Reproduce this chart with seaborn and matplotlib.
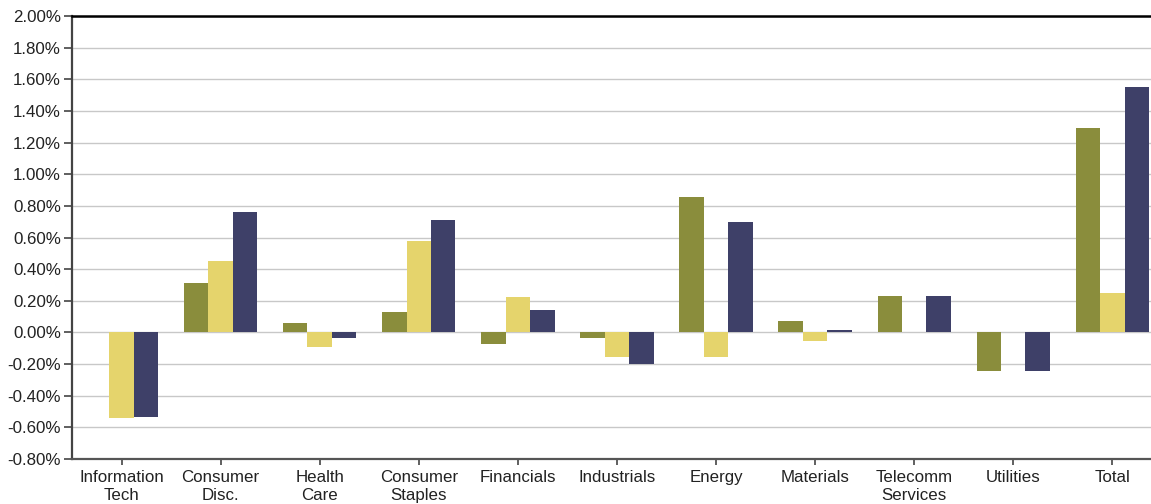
import matplotlib
matplotlib.use("Agg")
import matplotlib.pyplot as plt
import seaborn as sns
import pandas as pd
from matplotlib.ticker import FuncFormatter, MultipleLocator

categories = ["Information\nTech", "Consumer\nDisc.", "Health\nCare", "Consumer\nStaples",
              "Financials", "Industrials", "Energy", "Materials", "Telecomm\nServices",
              "Utilities", "Total"]
allocation = [0.00, 0.31, 0.061, 0.13, -0.075, -0.037, 0.854, 0.070, 0.23, -0.245, 1.292]
selection = [-0.543, 0.45, -0.095, 0.58, 0.222, -0.158, -0.158, -0.056, 0.00, 0.00, 0.249]
total = [-0.533, 0.76, -0.036, 0.71, 0.144, -0.198, 0.696, 0.017, 0.23, -0.245, 1.553]
series = ["Allocation", "Selection", "Total Effect"]
colors = ["#8a8d3c", "#e5d46c", "#3e4068"]

rows = []
for s, vals in zip(series, [allocation, selection, total]):
    for c, v in zip(categories, vals):
        rows.append({"Sector": c, "Series": s, "Value": v})
df = pd.DataFrame(rows)

sns.set_theme(style="white")
plt.rcParams["font.family"] = ["Liberation Sans", "DejaVu Sans"]

fig = plt.figure(figsize=(11.51, 5.04), dpi=100)
ax = fig.add_axes([72 / 1151, 45 / 504, 1 - 72 / 1151, (459 - 16) / 504])

sns.barplot(data=df, x="Sector", y="Value", hue="Series", order=categories,
            hue_order=series, palette=colors, width=0.74, gap=0, saturation=1,
            legend=False, ax=ax, zorder=3, linewidth=0)

ax.set_ylim(-0.8, 2.0)
ax.set_xlim(-0.5, 10.39)
ax.yaxis.set_major_locator(MultipleLocator(0.2))
ax.yaxis.set_major_formatter(FuncFormatter(lambda v, p: f"{v:.2f}%"))
ax.grid(axis="y", color="#c8c8c8", linewidth=1.0, zorder=0)
ax.set_axisbelow(True)
ax.set_xlabel("")
ax.set_ylabel("")

ax.spines["right"].set_visible(False)
ax.spines["top"].set_color("black")
ax.spines["top"].set_linewidth(1.8)
ax.spines["left"].set_color("#444444")
ax.spines["left"].set_linewidth(1.6)
ax.spines["bottom"].set_color("#555555")
ax.spines["bottom"].set_linewidth(1.6)

ax.tick_params(axis="y", left=True, length=6, width=1.2, color="#444444",
               labelsize=12.2, labelcolor="#222222", pad=2)
ax.tick_params(axis="x", bottom=True, length=4, width=1.2, color="#444444",
               labelsize=12.2, labelcolor="#222222", pad=4)
for t in ax.get_xticklabels():
    t.set_linespacing(1.2)

fig.savefig("out.png", dpi=100)
